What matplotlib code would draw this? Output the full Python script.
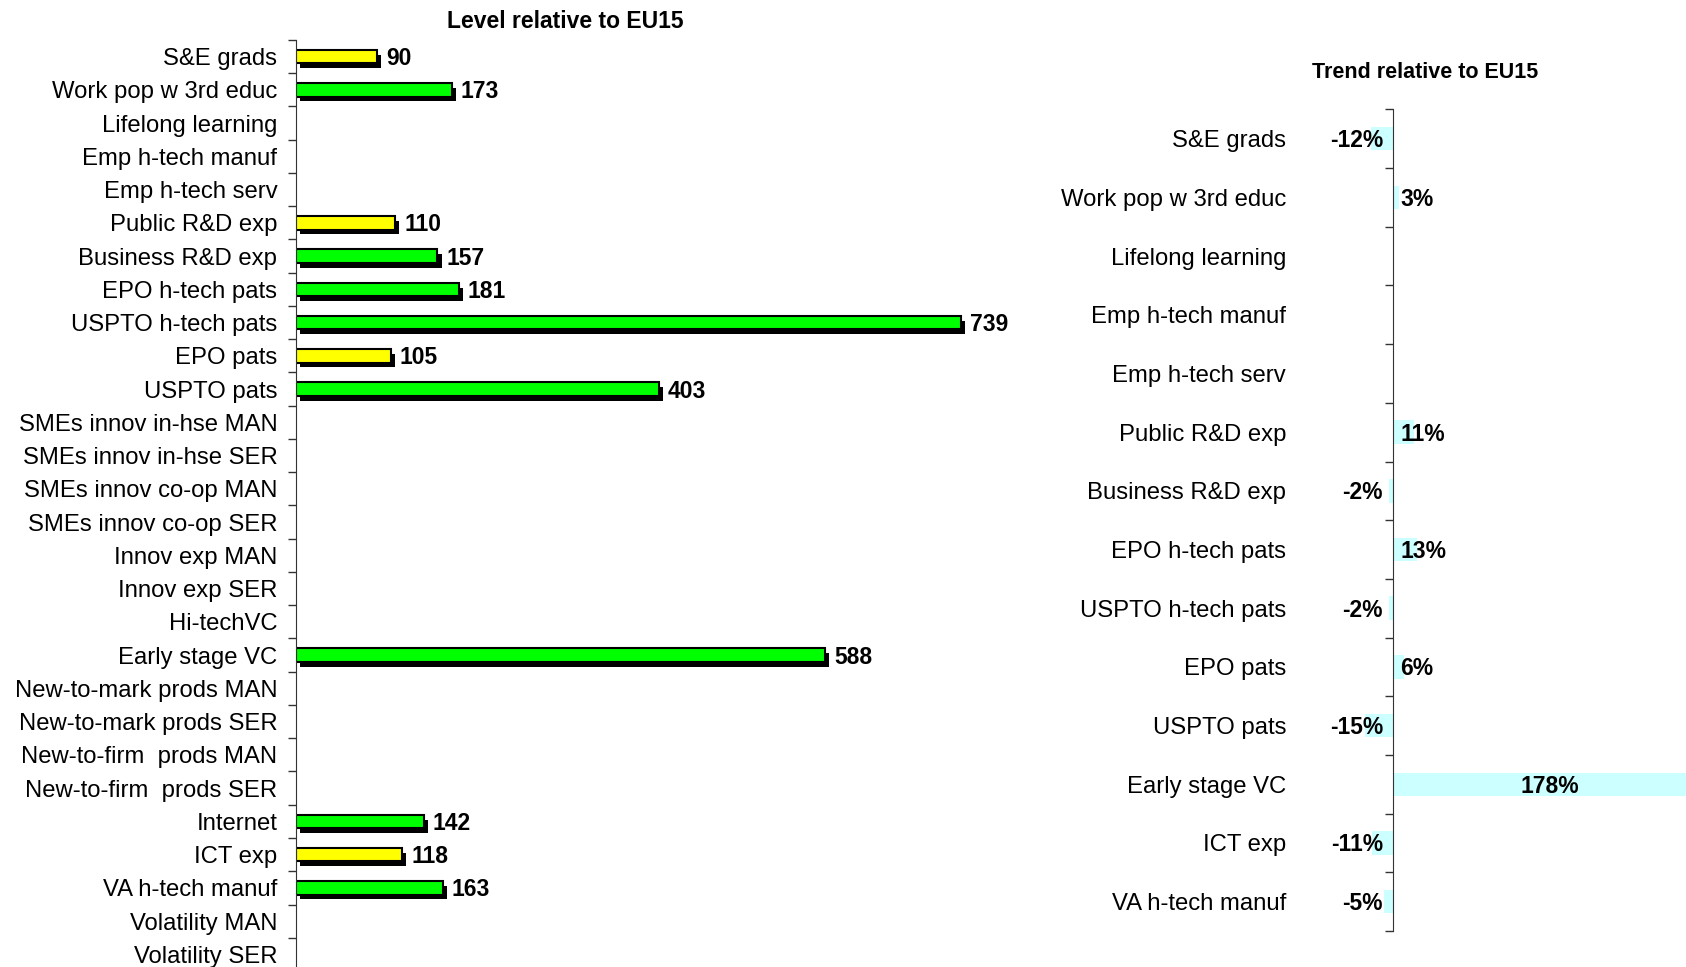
import matplotlib.pyplot as plt
import matplotlib.patheffects as pe
from matplotlib.transforms import offset_copy
import numpy as np

plt.rcParams['font.family'] = ['Liberation Sans', 'DejaVu Sans']

# level relative to EU15 (None = no data)
level_cats = ['S&E grads', 'Work pop w 3rd educ', 'Lifelong learning', 'Emp h-tech manuf',
              'Emp h-tech serv', 'Public R&D exp', 'Business R&D exp', 'EPO h-tech pats',
              'USPTO h-tech pats', 'EPO pats', 'USPTO pats', 'SMEs innov in-hse MAN',
              'SMEs innov in-hse SER', 'SMEs innov co-op MAN', 'SMEs innov co-op SER',
              'Innov exp MAN', 'Innov exp SER', 'Hi-techVC', 'Early stage VC',
              'New-to-mark prods MAN', 'New-to-mark prods SER', 'New-to-firm  prods MAN',
              'New-to-firm  prods SER', 'Internet', 'ICT exp', 'VA h-tech manuf',
              'Volatility MAN', 'Volatility SER']
level_vals = [90, 173, None, None, None, 110, 157, 181, 739, 105, 403, None, None, None, None,
              None, None, None, 588, None, None, None, None, 142, 118, 163, None, None]

# trend relative to EU15 (%)
trend_cats = ['S&E grads', 'Work pop w 3rd educ', 'Lifelong learning', 'Emp h-tech manuf',
              'Emp h-tech serv', 'Public R&D exp', 'Business R&D exp', 'EPO h-tech pats',
              'USPTO h-tech pats', 'EPO pats', 'USPTO pats', 'Early stage VC', 'ICT exp',
              'VA h-tech manuf']
trend_vals = [-12, 3, None, None, None, 11, -2, 13, -2, 6, -15, 178, -11, -5]

fig = plt.figure(figsize=(16.86, 9.67), dpi=100)

# ---- left panel
ax = fig.add_axes([0.1756, -0.00414, 720 / 1686, 0.9628])
y = np.arange(len(level_cats))
shadow = [pe.SimplePatchShadow(offset=(3, -3.5), shadow_rgbFace='black', alpha=1), pe.Normal()]
tr = offset_copy(ax.transData, fig, y=-2, units='dots')
for i, v in enumerate(level_vals):
    if v is None:
        continue
    col = '#FFFF00' if v < 120 else '#00FF00'
    b = ax.barh(i, v, height=0.4, color=col, edgecolor='black', linewidth=1.5)
    b[0].set_path_effects(shadow)
    ax.text(v + 10, i, str(v), ha='left', va='center', fontsize=16.5, fontweight='bold',
            transform=tr)
ax.set_xlim(0, 800)
ax.set_ylim(len(level_cats) - 0.5, -0.5)
ax.set_yticks(y)
ax.set_yticklabels(level_cats, fontsize=17.2)
ax.set_yticks(np.arange(len(level_cats) + 1) - 0.5, minor=True)
ax.tick_params(axis='y', which='major', length=0, pad=13.5)
ax.tick_params(axis='y', which='minor', length=6, width=1, color='#333333')
ax.set_xticks([])
for s in ['top', 'right', 'bottom']:
    ax.spines[s].set_visible(False)
ax.spines['left'].set_color('#333333')
fig.text(565 / 1686, 1 - 22 / 967, 'Level relative to EU15', ha='center', va='center',
         fontsize=16.5, fontweight='bold')

# ---- right panel
ax2 = fig.add_axes([1355.6 / 1686, 0.0372, 330.4 / 1686, 0.8497])
y2 = np.arange(len(trend_cats))
tr2 = offset_copy(ax2.transData, fig, y=-2, units='dots')
for i, v in enumerate(trend_vals):
    if v is None:
        continue
    ax2.barh(i, v, height=0.4, color='#CCFFFF')
    if v > 100:
        ax2.text(v * 0.47, i, f'{v}%', ha='center', va='center', fontsize=16.5,
                 fontweight='bold', transform=tr2)
    elif v < 0:
        ax2.text(-5.3, i, f'{v}%', ha='right', va='center', fontsize=16.5,
                 fontweight='bold', transform=tr2)
    else:
        ax2.text(4, i, f'{v}%', ha='left', va='center', fontsize=16.5,
                 fontweight='bold', transform=tr2)
ax2.set_xlim(-20, 156.7)
ax2.set_ylim(len(trend_cats) - 0.5, -0.5)
ax2.spines['left'].set_position(('data', 0))
ax2.set_yticks(y2)
ax2.set_yticklabels(trend_cats, fontsize=17.2)
ax2.set_yticks(np.arange(len(trend_cats) + 1) - 0.5, minor=True)
ax2.tick_params(axis='y', which='major', length=0, pad=77)
ax2.tick_params(axis='y', which='minor', length=6, width=1, color='#333333')
ax2.set_xticks([])
for s in ['top', 'right', 'bottom']:
    ax2.spines[s].set_visible(False)
ax2.spines['left'].set_color('#333333')
fig.text(1425 / 1686, 1 - 72 / 967, 'Trend relative to EU15', ha='center', va='center',
         fontsize=15.5, fontweight='bold')

fig.savefig('out.png', dpi=100)
